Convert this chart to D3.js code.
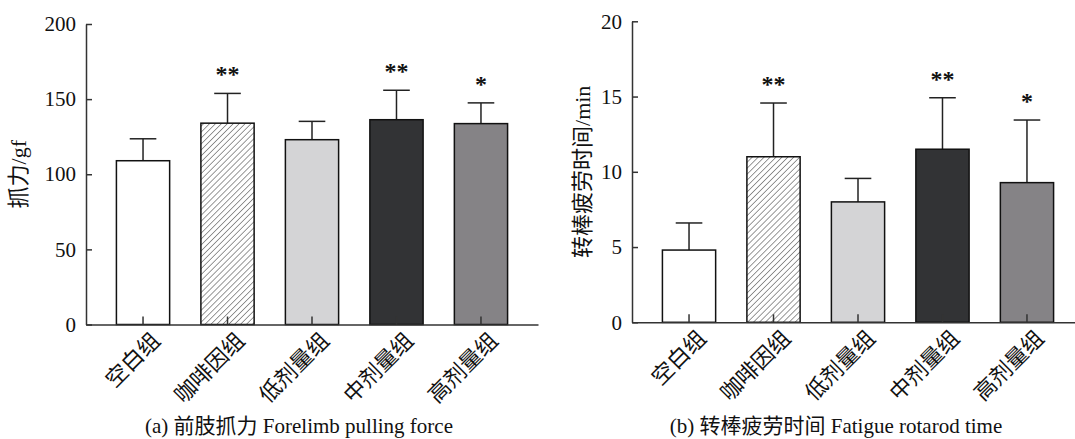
<!DOCTYPE html>
<html>
<head>
<meta charset="utf-8">
<script src="https://d3js.org/d3.v7.min.js"></script>
<style>
  html, body { margin: 0; padding: 0; background: #fff; }
  svg text { font-family: "Times New Roman", "Liberation Serif", "Noto Sans CJK SC", serif; fill: #111; }
  .axis path, .axis line { stroke: #333; stroke-width: 1.5px; }
</style>
</head>
<body>
<svg id="chart" width="1075" height="439"></svg>
<script>
// group names on the x axis
const groups = ["空白组", "咖啡因组", "低剂量组", "中剂量组", "高剂量组"];
// (a) forelimb pulling force, gf
const forceMean = [109, 134, 123, 136.3, 133.7];
const forceSD = [14.6, 19.8, 12.2, 19.6, 13.8];
// (b) fatigue rotarod time, min
const rotaMean = [4.8, 11.0, 8.0, 11.5, 9.28];
const rotaSD = [1.8, 3.57, 1.56, 3.42, 4.16];
// significance marks
const marks = ["", "**", "", "**", "*"];
const fills = ["#ffffff", "url(#hatch)", "#d4d4d6", "#323335", "#858386"];
const forceTicks = [0, 50, 100, 150, 200];
const rotaTicks = [0, 5, 10, 15, 20];

const svg = d3.select("#chart");

// diagonal hatch for the caffeine group
const pat = svg.append("defs").append("pattern")
  .attr("id", "hatch")
  .attr("patternUnits", "userSpaceOnUse")
  .attr("width", 4.2).attr("height", 4.2)
  .attr("patternTransform", "rotate(45)");
pat.append("rect").attr("width", 4.2).attr("height", 4.2).attr("fill", "#fff");
pat.append("line").attr("x1", 0).attr("y1", 0).attr("x2", 0).attr("y2", 4.2)
  .attr("stroke", "#333").attr("stroke-width", 1);

function panel(opt) {
  const x = d3.scaleBand().domain(groups).range(opt.xr).paddingInner(0.37).paddingOuter(0.36);
  const y = d3.scaleLinear().domain(opt.dom).range(opt.yr);
  const g = svg.append("g");
  const bw = x.bandwidth();

  // error bars (upper only)
  g.selectAll(".err").data(groups).join("g").each(function (d, i) {
    const cx = x(d) + bw / 2;
    const top = y(opt.mean[i] + opt.sd[i]);
    d3.select(this).append("line")
      .attr("x1", cx).attr("x2", cx).attr("y1", y(opt.mean[i])).attr("y2", top)
      .attr("stroke", "#222").attr("stroke-width", 1.5);
    d3.select(this).append("line")
      .attr("x1", cx - bw / 4).attr("x2", cx + bw / 4).attr("y1", top).attr("y2", top)
      .attr("stroke", "#222").attr("stroke-width", 1.5);
    if (marks[i]) {
      d3.select(this).append("text")
        .attr("x", cx).attr("y", top - 11)
        .attr("text-anchor", "middle")
        .style("font-size", "24px")
        .style("font-weight", "bold")
        .text(marks[i]);
    }
  });

  // bars
  g.selectAll(".bar").data(groups).join("rect")
    .attr("x", d => x(d))
    .attr("width", bw)
    .attr("y", (d, i) => y(opt.mean[i]))
    .attr("height", (d, i) => y(0) - y(opt.mean[i]))
    .attr("fill", (d, i) => fills[i])
    .attr("stroke", "#111").attr("stroke-width", 1.5);

  // y axis, ticks inside
  const ya = g.append("g").attr("class", "axis")
    .attr("transform", `translate(${opt.xr[0]},0)`)
    .call(d3.axisLeft(y).tickValues(opt.ticks).tickSize(-6).tickSizeOuter(0).tickPadding(10));
  ya.selectAll("text").style("font-size", "21px");

  // x axis, ticks pointing up into bars
  g.append("g").attr("class", "axis")
    .attr("transform", `translate(0,${y(0)})`)
    .call(d3.axisBottom(x).tickSize(-8).tickSizeOuter(0).tickFormat(""));
  g.selectAll(".xlab").data(groups).join("text")
    .attr("transform", d => `translate(${x(d) + bw / 2 + 13},${y(0) + 12}) rotate(-45)`)
    .attr("text-anchor", "end")
    .attr("dy", "0.35em")
    .style("font-size", "22px")
    .text(d => d);

  // y title
  g.append("text")
    .attr("transform", `translate(${opt.titleX},${(opt.yr[0] + opt.yr[1]) / 2}) rotate(-90)`)
    .attr("text-anchor", "middle")
    .attr("dy", "0.35em")
    .style("font-size", "22px")
    .text(opt.title);

  // caption
  g.append("text")
    .attr("x", opt.capX).attr("y", 433)
    .attr("text-anchor", "middle")
    .style("font-size", "21px")
    .text(opt.caption);
}

panel({
  xr: [86, 538], yr: [324.5, 24], dom: [0, 200], ticks: forceTicks,
  mean: forceMean, sd: forceSD,
  title: "抓力/gf", titleX: 18,
  caption: "(a) 前肢抓力 Forelimb pulling force", capX: 299
});
panel({
  xr: [632, 1084], yr: [322.3, 21.3], dom: [0, 20], ticks: rotaTicks,
  mean: rotaMean, sd: rotaSD,
  title: "转棒疲劳时间/min", titleX: 582,
  caption: "(b) 转棒疲劳时间 Fatigue rotarod time", capX: 836
});
</script>
</body>
</html>
